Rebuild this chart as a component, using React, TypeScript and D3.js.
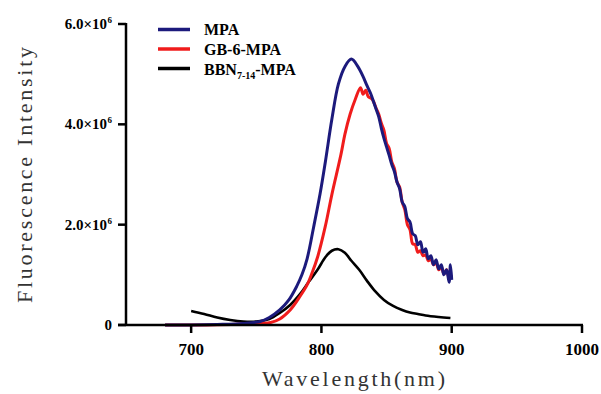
import * as d3 from "d3";

type Pt = [number, number];

// wavelength (nm), intensity (x10^6)
const mpa: Pt[] = [
    [680, 0], [700, 0], [720, 0.01], [740, 0.03], [753, 0.07], [760, 0.15],
    [768, 0.3], [775, 0.5], [781, 0.77], [785, 1.0], [789, 1.32], [794, 1.95],
    [799, 2.62], [803, 3.25], [808, 4.1], [813, 4.8], [818, 5.15], [823, 5.3],
    [828, 5.15], [832, 4.95], [835, 4.77], [838, 4.6], [840, 4.45], [842, 4.3],
    [844, 4.15], [846, 3.92], [848, 3.72], [850, 3.55], [852, 3.38], [854, 3.2],
    [856, 3.06], [858, 2.85], [860, 2.72], [862, 2.45], [864, 2.36], [866, 2.12],
    [868, 2.05], [870, 1.82], [872, 1.78], [874, 1.6], [876, 1.66], [878, 1.45],
    [880, 1.52], [882, 1.32], [884, 1.38], [886, 1.2], [888, 1.3], [890, 1.12],
    [892, 1.2], [894, 1.0], [896, 1.1], [898, 0.85], [899, 1.2], [900, 0.9],
];

const gb6: Pt[] = [
    [680, 0], [700, 0], [720, 0.005], [740, 0.02], [761, 0.05], [768, 0.12],
    [776, 0.3], [783, 0.55], [789, 0.8], [793, 1.05], [797, 1.35], [803, 1.97],
    [808, 2.6], [815, 3.4], [818, 3.8], [822, 4.2], [826, 4.5], [830, 4.73],
    [832, 4.6], [834, 4.68], [836, 4.55], [839, 4.5], [842, 4.32], [844, 4.2],
    [846, 4.02], [848, 3.88], [850, 3.62], [852, 3.52], [854, 3.25], [856, 3.12],
    [858, 2.85], [860, 2.75], [862, 2.45], [864, 2.3], [866, 2.0], [868, 1.9],
    [870, 1.62], [872, 1.6], [874, 1.45], [876, 1.48], [878, 1.38], [880, 1.4],
    [882, 1.28], [884, 1.32], [886, 1.2], [888, 1.25], [890, 1.1], [892, 1.15],
    [894, 1.02], [896, 1.1], [898, 0.95], [900, 1.0],
];

const bbn: Pt[] = [
    [700, 0.28], [710, 0.22], [720, 0.15], [730, 0.1], [740, 0.07], [750, 0.07],
    [760, 0.12], [768, 0.24], [776, 0.4], [784, 0.63], [790, 0.85], [797, 1.1],
    [803, 1.35], [808, 1.48], [813, 1.51], [818, 1.44], [823, 1.28], [829, 1.1],
    [835, 0.88], [841, 0.68], [848, 0.5], [855, 0.38], [862, 0.3], [868, 0.25],
    [874, 0.22], [880, 0.19], [890, 0.16], [899, 0.14],
];

const xTicks = [700, 800, 900, 1000];
const yTicks = [0, 2, 4, 6];
const yTickLabels = ["0", "2.0×10", "4.0×10", "6.0×10"];

const seriesNames = ["MPA", "GB-6-MPA", "BBN"];
const seriesColors = ["#1c1a7c", "#f01c1c", "#000000"];

const W = 601;
const H = 394;
const FONT = "Liberation Serif";

export default function App() {
    const x = d3.scaleLinear().domain([650, 1000]).range([126, 582]);
    const y = d3.scaleLinear().domain([0, 6]).range([325, 24]);

    const line = d3
        .line<Pt>()
        .x((d) => x(d[0]))
        .y((d) => y(d[1]))
        .curve(d3.curveCatmullRom.alpha(0.5));

    return (
        <svg width={W} height={H} style={{ position: "absolute", left: 0, top: 0, background: "#fff" }}>
            {/* curves */}
            <path d={line(bbn)!} fill="none" stroke={seriesColors[2]} strokeWidth={2.6} />
            <path d={line(gb6)!} fill="none" stroke={seriesColors[1]} strokeWidth={3} />
            <path d={line(mpa)!} fill="none" stroke={seriesColors[0]} strokeWidth={3} />

            {/* axes */}
            <line x1={x(650)} x2={x(650)} y1={y(6) - 1} y2={y(0)} stroke="#000" strokeWidth={2.5} />
            <line x1={118} x2={x(1000) + 1} y1={y(0)} y2={y(0)} stroke="#000" strokeWidth={2.5} />
            {yTicks.map((t, i) => (
                <g key={t}>
                    <line x1={118} x2={x(650)} y1={y(t)} y2={y(t)} stroke="#000" strokeWidth={2.5} />
                    <text
                        x={i === 0 ? 112 : 107}
                        y={y(t) + 5}
                        textAnchor="end"
                        fontFamily={FONT}
                        fontSize={15}
                        fontWeight="bold"
                    >
                        {yTickLabels[i]}
                    </text>
                    {i > 0 && (
                        <text x={107.5} y={y(t) - 1} fontFamily={FONT} fontSize={9} fontWeight="bold">
                            6
                        </text>
                    )}
                </g>
            ))}
            {xTicks.map((t) => (
                <g key={t}>
                    <line x1={x(t)} x2={x(t)} y1={y(0)} y2={y(0) + 8} stroke="#000" strokeWidth={2.5} />
                    <text
                        x={x(t)}
                        y={355}
                        textAnchor="middle"
                        fontFamily={FONT}
                        fontSize={17}
                        fontWeight="bold"
                    >
                        {t}
                    </text>
                </g>
            ))}

            {/* axis titles */}
            <text
                x={262}
                y={386}
                fontFamily={FONT}
                fontSize={22}
                fill="#333"
                textLength={183}
                lengthAdjust="spacing"
            >
                Wavelength(nm)
            </text>
            <text
                transform="translate(32,303) rotate(-90)"
                fontFamily={FONT}
                fontSize={22}
                fill="#333"
                textLength={256}
                lengthAdjust="spacing"
            >
                Fluorescence Intensity
            </text>

            {/* legend */}
            {seriesNames.map((n, i) => (
                <g key={n}>
                    <line
                        x1={158}
                        x2={190}
                        y1={29.5 + i * 19.5}
                        y2={29.5 + i * 19.5}
                        stroke={seriesColors[i]}
                        strokeWidth={3.5}
                    />
                    <text x={204} y={35 + i * 20} fontFamily={FONT} fontSize={16} fontWeight="bold">
                        {i === 2 ? (
                            <>
                                BBN
                                <tspan fontSize={10} dy={4}>7-14</tspan>
                                <tspan dy={-4}>-MPA</tspan>
                            </>
                        ) : (
                            n
                        )}
                    </text>
                </g>
            ))}
        </svg>
    );
}
